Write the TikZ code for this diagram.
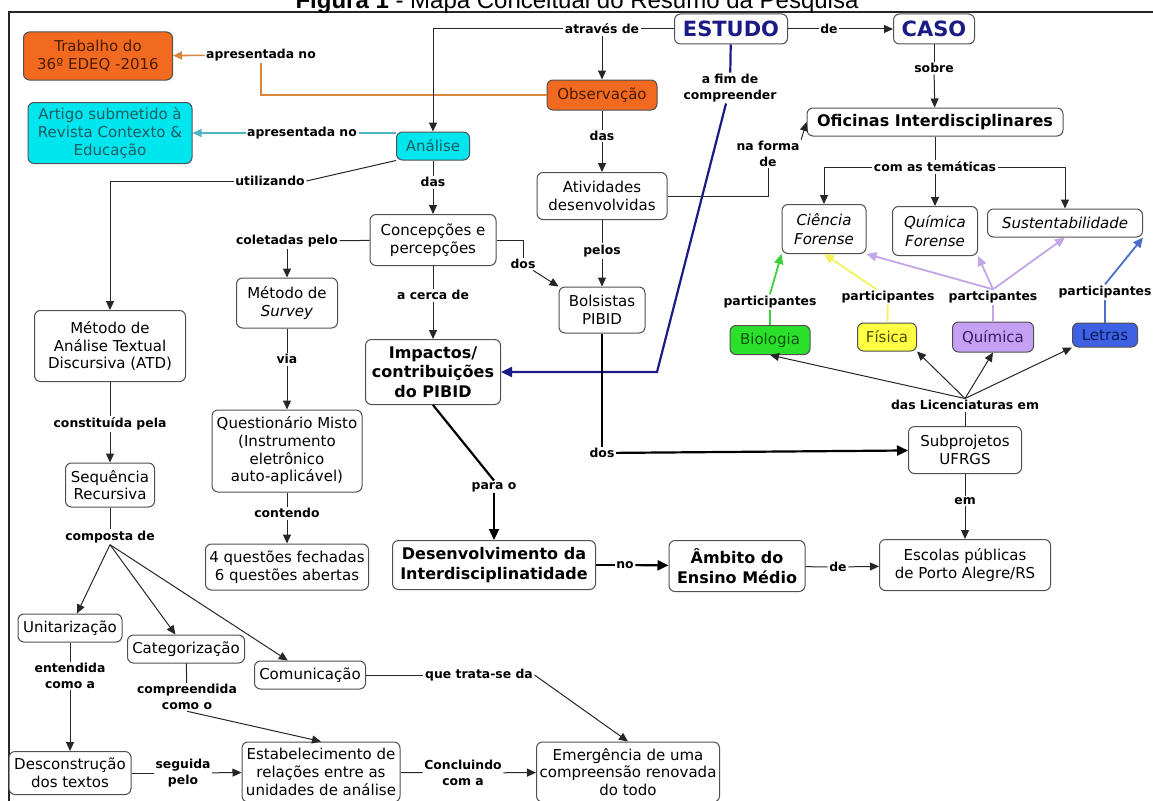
\documentclass[tikz,border=0pt]{standalone}
\usepackage{fontspec}
\setmainfont{DejaVu Sans}
\newfontfamily\titlefont{Liberation Sans}
\usetikzlibrary{arrows.meta}
\definecolor{edge}{HTML}{505050}
\definecolor{orangebox}{HTML}{F26A1F}
\definecolor{orangeln}{HTML}{D8853E}
\definecolor{orangetx}{HTML}{4A1C00}
\definecolor{cyanbox}{HTML}{00E6EE}
\definecolor{cyanln}{HTML}{4DB6BE}
\definecolor{cyantx}{HTML}{1D5C60}
\definecolor{navy}{HTML}{1B1B86}
\definecolor{greenbox}{HTML}{2BE02B}
\definecolor{greenln}{HTML}{3CD03C}
\definecolor{greentx}{HTML}{0E560E}
\definecolor{yellowbox}{HTML}{FFFF44}
\definecolor{yellowln}{HTML}{F2F25C}
\definecolor{yellowtx}{HTML}{4E4E00}
\definecolor{lilacbox}{HTML}{C6A0F2}
\definecolor{lilacln}{HTML}{C3A6E8}
\definecolor{lilactx}{HTML}{3A1A62}
\definecolor{bluebox}{HTML}{3F62E4}
\definecolor{blueln}{HTML}{4A6EC8}
\definecolor{bluetx}{HTML}{0A1A5E}
\tikzset{
  box/.style={draw=edge, line width=1pt, rounded corners=6pt, fill=white, align=center, inner sep=2pt, font=\fontsize{15}{17.7}\selectfont},
  boxb/.style={box, font=\bfseries\fontsize{16}{19.5}\selectfont},
  boxi/.style={box, font=\itshape\fontsize{15}{19}\selectfont},
  wh/.style 2 args={minimum width=#1pt, minimum height=#2pt},
  lbl/.style={font=\bfseries\fontsize{12.4}{15.5}\selectfont, inner sep=1.5pt, align=center},
  ln/.style={draw=black!85, line width=1pt},
  arr/.style={ln, -{Triangle[length=9pt,width=8pt]}},
  lnb/.style={draw=black, line width=2.2pt},
  arrb/.style={lnb, -{Triangle[length=11pt,width=10pt]}},
  navyarr/.style={draw=navy, line width=2.2pt, -{Triangle[length=11pt,width=10pt]}},
}

\begin{document}
\begin{tikzpicture}[x=1pt,y=-1pt]
  \useasboundingbox (0,0) rectangle (1153,800);
  \draw[black!85, line width=1.2pt] (9,12) rectangle (1170,820);
  \node[anchor=base, font=\titlefont\fontsize{24}{26}\selectfont] (title) at (577,9)
    {\textbf{Figura 1} - Mapa Conceitual do Resumo da Pesquisa};

  % top: estudo de caso
  \node[box, wh={113}{30}, font=\bfseries\fontsize{21}{24}\selectfont, text=navy] (estudo) at (731,29) {ESTUDO};
  \node[box, wh={81}{30}, font=\bfseries\fontsize{21}{24}\selectfont, text=navy] (caso) at (934,29) {CASO};
  \node[boxb, wh={256}{28}] (ofic) at (935,122) {Oficinas Interdisciplinares};
  \node[box, wh={110}{30}, fill=orangebox, text=orangetx] (obs) at (602,95) {Observação};
  \node[box, wh={73}{28}, fill=cyanbox, text=cyantx] (analise) at (433,146) {Análise};
  \node[box, wh={149}{48}, fill=orangebox, text=orangetx] (trab) at (98,56) {Trabalho do\\36º EDEQ -2016};
  \node[box, wh={164}{61}, fill=cyanbox, text=cyantx] (artigo) at (110,133) {Artigo submetido à\\Revista Contexto \&\\Educação};
  \node[box, wh={130}{47}] (ativ) at (602,196) {Atividades\\desenvolvidas};
  \node[box, wh={126}{51}] (conc) at (433,240) {Concepções e\\percepções};
  \node[box, wh={86}{46}] (bols) at (602,310) {Bolsistas\\PIBID};
  \node[boxb, wh={135}{65}] (imp) at (433,372) {Impactos/\\contribuições\\do PIBID};

  % tematicas e licenciaturas
  \node[boxi, wh={84}{49}] (cienc) at (824,229) {Ciência\\Forense};
  \node[boxi, wh={85}{49}] (qfor) at (935,231) {Química\\Forense};
  \node[boxi, wh={155}{28}] (sust) at (1065,223) {Sustentabilidade};
  \node[box, wh={80}{29}, fill=greenbox, text=greentx] (bio) at (770,340) {Biologia};
  \node[box, wh={59}{28}, fill=yellowbox, text=yellowtx] (fis) at (887,337) {Física};
  \node[box, wh={81}{30}, fill=lilacbox, text=lilactx] (qui) at (993,337) {Química};
  \node[box, wh={65}{24}, fill=bluebox, text=bluetx] (let) at (1105,335) {Letras};
  \node[box, wh={113}{47}] (sub) at (965,450) {Subprojetos\\UFRGS};
  \node[box, wh={171}{51}] (esc) at (965,565) {Escolas públicas\\de Porto Alegre/RS};
  \node[boxb, wh={136}{51}] (ambito) at (737,566) {Âmbito do\\Ensino Médio};
  \node[boxb, wh={203}{49}] (desenv) at (494,565) {Desenvolvimento da\\Interdisciplinatidade};

  % survey
  \node[box, wh={101}{50}] (survey) at (287,303) {Método de\\\textit{Survey}};
  \node[box, wh={150}{82}] (quest) at (287,451) {Questionário Misto\\(Instrumento\\eletrônico\\auto-aplicável)};
  \node[box, wh={163}{46}] (quatro) at (287,567) {4 questões fechadas\\6 questões abertas};

  % ATD
  \node[box, wh={151}{71}] (atd) at (110,346) {Método de\\Análise Textual\\Discursiva (ATD)};
  \node[box, wh={89}{44}] (seq) at (110,485) {Sequência\\Recursiva};
  \node[box, wh={104}{28}] (unit) at (70,628) {Unitarização};
  \node[box, wh={117}{28}] (cat) at (186,649) {Categorização};
  \node[box, wh={111}{28}] (com) at (310,675) {Comunicação};
  \node[box, wh={122}{43}] (desc) at (70,773) {Desconstrução\\dos textos};
  \node[box, wh={158}{60}] (estab) at (321,772) {Estabelecimento de\\relações entre as\\unidades de análise};
  \node[box, wh={183}{60}] (emerg) at (628,772) {Emergência de uma\\compreensão renovada\\do todo};

  % labels
  \node[lbl] (l_apr1) at (261,55) {apresentada no};
  \node[lbl] (l_apr2) at (302,133) {apresentada no};
  \node[lbl] (l_util) at (270,181) {utilizando};
  \node[lbl] (l_atr) at (602,29) {através de};
  \node[lbl] (l_de1) at (829,29) {de};
  \node[lbl] (l_sobre) at (934,68) {sobre};
  \node[lbl] (l_fim) at (730,88) {a fim de\\compreender};
  \node[lbl] (l_das1) at (602,136) {das};
  \node[lbl] (l_forma) at (768,154) {na forma\\de};
  \node[lbl] (l_tem) at (935,167) {com as temáticas};
  \node[lbl] (l_das2) at (433,182) {das};
  \node[lbl] (l_pelos) at (602,251) {pelos};
  \node[lbl] (l_dos1) at (523,264) {dos};
  \node[lbl] (l_colet) at (287,241) {coletadas pelo};
  \node[lbl] (l_cerca) at (433,295) {a cerca de};
  \node[lbl] (l_via) at (287,359) {via};
  \node[lbl] (l_cont) at (287,513) {contendo};
  \node[lbl] (l_const) at (110,424) {constituída pela};
  \node[lbl] (l_comp) at (110,537) {composta de};
  \node[lbl] (l_pbio) at (770,302) {participantes};
  \node[lbl] (l_pfis) at (888,297) {participantes};
  \node[lbl] (l_pqui) at (993,297) {partcipantes};
  \node[lbl] (l_plet) at (1105,292) {participantes};
  \node[lbl] (l_lic) at (965,405) {das Licenciaturas em};
  \node[lbl] (l_em) at (965,501) {em};
  \node[lbl] (l_de2) at (838,567) {de};
  \node[lbl] (l_no) at (625,565) {no};
  \node[lbl] (l_para) at (494,487) {para o};
  \node[lbl] (l_dos3) at (602,453) {dos};
  \node[lbl] (l_ent) at (70,676) {entendida\\como a};
  \node[lbl] (l_compr) at (187,697) {compreendida\\como o};
  \node[lbl] (l_seg) at (183,773) {seguida\\pelo};
  \node[lbl] (l_concl) at (463,773) {Concluindo\\com a};
  \node[lbl] (l_trata) at (479,675) {que trata-se da};
  \coordinate (bend) at (657,372);

  % connectors, top
  \draw[orangeln, line width=1.6pt] (obs) -| (l_apr1);
  \draw[orangeln, line width=1.6pt, -{Triangle[length=9pt,width=8pt]}] (l_apr1) -- (trab);
  \draw[cyanln, line width=1.6pt] (l_apr2 -| analise.west) -- (l_apr2);
  \draw[cyanln, line width=1.6pt, -{Triangle[length=9pt,width=8pt]}] (l_apr2) -- (artigo);
  \draw[ln] (analise.south west) -- (l_util.east);
  \draw[arr] (l_util) -| (atd);
  \draw[ln] (estudo) -- (l_atr);
  \draw[arr] (l_atr) -| (analise);
  \draw[arr] (l_atr) -- (obs);
  \draw[ln] (estudo) -- (l_de1);
  \draw[arr] (l_de1) -- (caso);
  \draw[ln] (caso) -- (l_sobre);
  \draw[arr] (l_sobre) -- (ofic);
  \draw[draw=navy, line width=2.2pt] (estudo) -- (l_fim);
  \draw[navyarr] (l_fim) -- (bend) -- (imp);
  \draw[ln] (obs) -- (l_das1);
  \draw[arr] (l_das1) -- (ativ);
  \draw[ln] (ativ) -| (l_forma);
  \draw[arr] (l_forma.north east) -- (ofic.west);
  \draw[ln] (ofic) -- (l_tem);
  \draw[arr] (l_tem) -| (cienc);
  \draw[arr] (l_tem) -- (qfor);
  \draw[arr] (l_tem) -| (sust);
  \draw[ln] (analise) -- (l_das2);
  \draw[arr] (l_das2) -- (conc);
  \draw[ln] (ativ) -- (l_pelos);
  \draw[arr] (l_pelos) -- (bols);
  \draw[ln] (conc) -| (l_dos1);
  \draw[arr] (l_dos1) -- (bols.north west);
  \draw[ln] (conc) -- (l_colet);
  \draw[arr] (l_colet) -- (survey);
  \draw[ln] (conc) -- (l_cerca);
  \draw[arr] (l_cerca) -- (imp);

  % participantes
  \draw[greenln, line width=1.8pt] (bio) -- (l_pbio);
  \draw[greenln, line width=1.8pt, -{Triangle[length=10pt,width=9pt]}] (l_pbio.north) -- (cienc.south west);
  \draw[yellowln, line width=1.8pt] (fis) -- (l_pfis);
  \draw[yellowln, line width=1.8pt, -{Triangle[length=10pt,width=9pt]}] (l_pfis) -- (cienc.south);
  \draw[lilacln, line width=1.8pt] (qui) -- (l_pqui);
  \draw[lilacln, line width=1.8pt, -{Triangle[length=10pt,width=9pt]}] (l_pqui.north) -- (cienc.south east);
  \draw[lilacln, line width=1.8pt, -{Triangle[length=10pt,width=9pt]}] (l_pqui.north) -- (qfor.south east);
  \draw[lilacln, line width=1.8pt, -{Triangle[length=10pt,width=9pt]}] (l_pqui.north) -- (sust.south);
  \draw[blueln, line width=1.8pt] (let) -- (l_plet);
  \draw[blueln, line width=1.8pt, -{Triangle[length=10pt,width=9pt]}] (l_plet.north) -- (sust.south east);
  \draw[ln] (sub) -- (l_lic);
  \draw[arr] (l_lic.north) -- (bio.south);
  \draw[arr] (l_lic.north) -- (fis.south east);
  \draw[arr] (l_lic.north) -- (qui.south);
  \draw[arr] (l_lic.north) -- (let.south west);
  \draw[ln] (sub) -- (l_em);
  \draw[arr] (l_em) -- (esc);

  % middle
  \draw[lnb] (bols) -- (l_dos3);
  \draw[arrb] (l_dos3) -- (sub);
  \draw[lnb] (imp.south) -- (l_para.north);
  \draw[arrb] (l_para) -- (desenv);
  \draw[lnb] (desenv) -- (l_no);
  \draw[arrb] (l_no) -- (ambito);
  \draw[ln] (ambito) -- (l_de2);
  \draw[arr] (l_de2) -- (esc);
  \draw[ln] (survey) -- (l_via);
  \draw[arr] (l_via) -- (quest);
  \draw[ln] (quest) -- (l_cont);
  \draw[arr] (l_cont) -- (quatro);

  % ATD
  \draw[ln] (atd) -- (l_const);
  \draw[arr] (l_const) -- (seq);
  \draw[ln] (seq) -- (l_comp);
  \draw[arr] (l_comp.south) -- (unit);
  \draw[arr] (l_comp.south) -- (cat);
  \draw[arr] (l_comp.south) -- (com);
  \draw[ln] (unit) -- (l_ent);
  \draw[arr] (l_ent) -- (desc);
  \draw[ln] (cat) -- (l_compr);
  \draw[arr] (l_compr.south) -- (estab.north);
  \draw[ln] (desc) -- (l_seg);
  \draw[arr] (l_seg) -- (estab);
  \draw[ln] (estab) -- (l_concl);
  \draw[arr] (l_concl) -- (emerg);
  \draw[ln] (com) -- (l_trata);
  \draw[arr] (l_trata.east) -- (emerg.north);
\end{tikzpicture}
\end{document}
